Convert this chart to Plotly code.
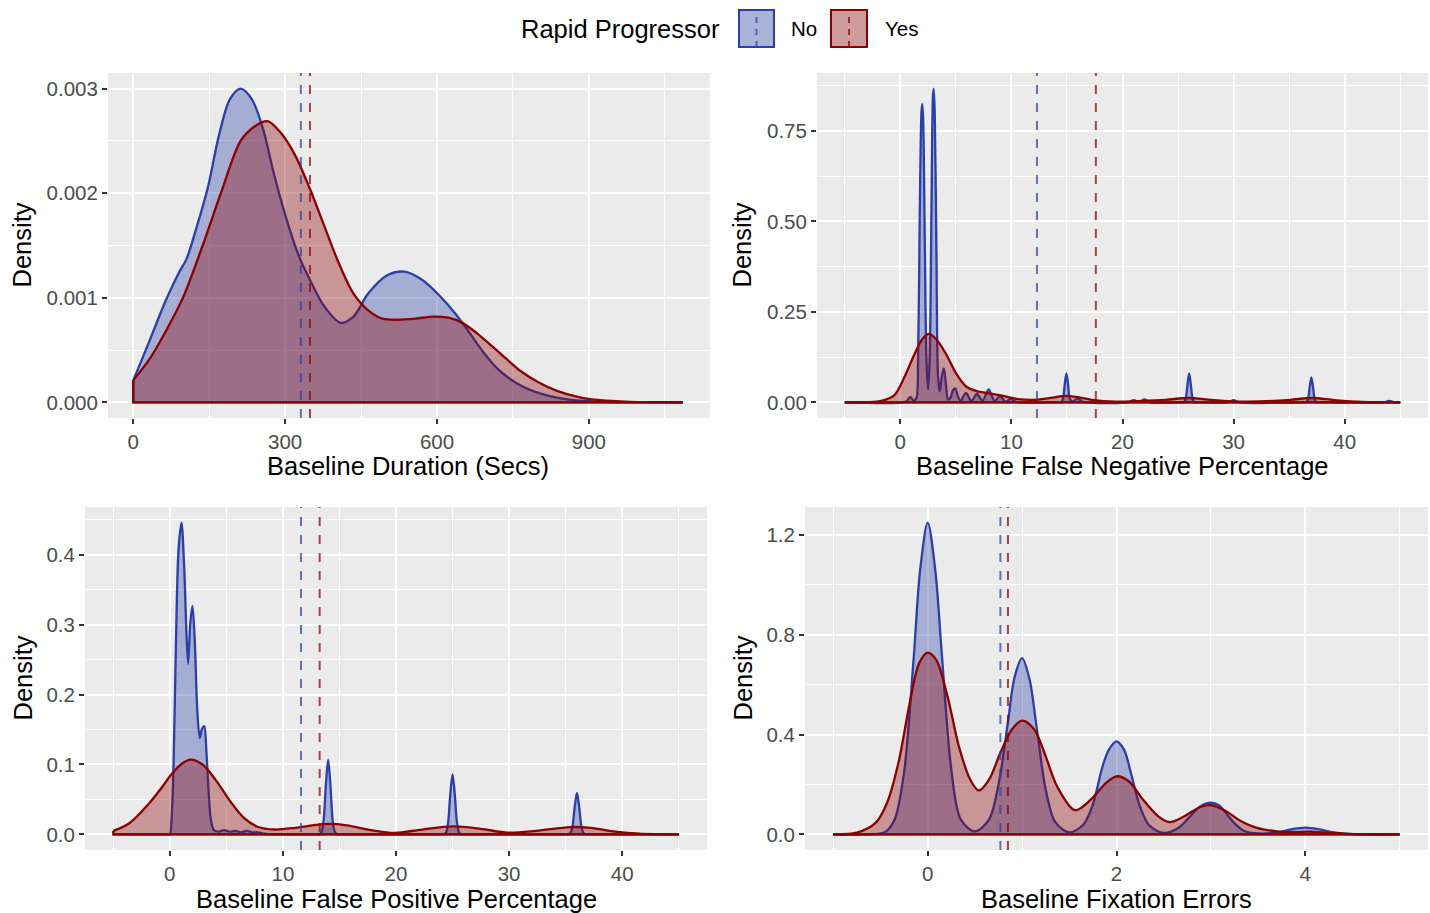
import plotly.graph_objects as go

W, H = 1430, 913

# ---------------- data ----------------
# Panel 1: Baseline Duration (Secs)
dur_no_x = [0, 33, 62, 90, 105, 126, 148, 169, 191, 212, 234, 256, 277, 299, 327, 349, 377, 410,
            435, 464, 500, 535, 571, 607, 636, 665, 693, 722, 758, 794, 837, 887, 944, 1000, 1085]
dur_no_y = [2.1e-4, 6.0e-4, 9.5e-4, 1.24e-3, 1.37e-3, 1.69e-3, 2.07e-3, 2.55e-3, 2.90e-3, 3.00e-3,
            2.90e-3, 2.62e-3, 2.20e-3, 1.81e-3, 1.40e-3, 1.17e-3, 9.2e-4, 7.6e-4, 8.2e-4, 1.04e-3,
            1.21e-3, 1.25e-3, 1.17e-3, 1.01e-3, 8.5e-4, 6.6e-4, 4.7e-4, 3.1e-4, 1.8e-4, 1.0e-4,
            4.5e-5, 1.3e-5, 3e-6, 1e-6, 0.0]
dur_yes_x = [0, 33, 62, 98, 137, 173, 212, 240, 265, 291, 320, 349, 377, 406, 435, 464, 492, 521,
             557, 593, 622, 650, 679, 708, 736, 765, 801, 837, 880, 923, 980, 1030, 1085]
dur_yes_y = [2.1e-4, 4.2e-4, 6.6e-4, 1.0e-3, 1.5e-3, 2.0e-3, 2.5e-3, 2.64e-3, 2.69e-3, 2.58e-3,
             2.36e-3, 2.04e-3, 1.69e-3, 1.33e-3, 1.04e-3, 8.8e-4, 8.0e-4, 7.9e-4, 8.0e-4, 8.2e-4,
             8.1e-4, 7.6e-4, 6.6e-4, 5.4e-4, 4.2e-4, 3.0e-4, 1.9e-4, 1.1e-4, 5.0e-5, 2.0e-5,
             5e-6, 1e-6, 0.0]
dur_mean_no, dur_mean_yes = 331, 349

# Panel 2: Baseline False Negative Percentage
fn_no_x = [-5.0, 0.3, 0.6, 0.9, 1.2, 1.45, 1.6, 1.75, 1.9, 1.97, 2.05, 2.2, 2.35, 2.5, 2.65, 2.8,
           2.93, 3.0, 3.1, 3.25, 3.4, 3.55, 3.75, 3.92, 4.1, 4.3, 4.5, 4.75, 4.95, 5.2, 5.45, 5.7,
           5.9, 6.1, 6.4, 6.7, 6.9, 7.1, 7.4, 7.7, 7.95, 8.2, 8.5, 8.8, 9.0, 9.25, 9.5, 9.8, 9.95,
           10.2, 10.6, 14.3, 14.5, 14.65, 14.8, 14.95, 15.1, 15.25, 15.5, 15.8, 16.0, 16.3, 16.7,
           20.5, 21.0, 21.5, 22.0, 22.5, 25.3, 25.55, 25.7, 25.85, 26.0, 26.15, 26.3, 26.45, 26.7,
           29.5, 30.0, 30.5, 36.3, 36.55, 36.7, 36.85, 37.0, 37.15, 37.3, 37.45, 37.7, 43.5, 44.0,
           44.5, 45.0]
fn_no_y = [0.0, 0.0, 0.004, 0.015, 0.004, 0.012, 0.12, 0.52, 0.80, 0.825, 0.79, 0.45, 0.12, 0.035,
           0.13, 0.52, 0.84, 0.867, 0.80, 0.42, 0.07, 0.03, 0.075, 0.094, 0.05, 0.008, 0.012, 0.034,
           0.038, 0.015, 0.004, 0.018, 0.026, 0.018, 0.003, 0.016, 0.024, 0.016, 0.004, 0.022,
           0.036, 0.02, 0.003, 0.013, 0.017, 0.008, 0.002, 0.008, 0.010, 0.004, 0.0, 0.0, 0.0,
           0.011, 0.049, 0.080, 0.049, 0.011, 0.002, 0.008, 0.010, 0.003, 0.0, 0.0, 0.006, 0.001,
           0.008, 0.0, 0.0, 0.0, 0.011, 0.049, 0.080, 0.049, 0.011, 0.0, 0.0, 0.0, 0.006, 0.0,
           0.0, 0.0, 0.009, 0.042, 0.069, 0.042, 0.009, 0.0, 0.0, 0.0, 0.004, 0.0, 0.0]
fn_yes_x = [-5, -3, -1.8, -0.56, 0.37, 1.3, 1.92, 2.54, 3.16, 4.09, 5.02, 5.95, 6.88, 8.12, 9.36,
            10.6, 12.15, 13.7, 14.9, 16.2, 17.4, 19.3, 21.8, 23.9, 25.9, 27.96, 30.1, 32.9, 35.1,
            37.1, 39.1, 41.6, 45]
fn_yes_y = [0.0, 0.0005, 0.003, 0.019, 0.070, 0.135, 0.172, 0.189, 0.177, 0.135, 0.080, 0.043,
            0.031, 0.024, 0.017, 0.009, 0.007, 0.013, 0.018, 0.013, 0.006, 0.002, 0.004, 0.007,
            0.012, 0.007, 0.002, 0.003, 0.007, 0.012, 0.006, 0.001, 0.0]
fn_mean_no, fn_mean_yes = 12.3, 17.6

# Panel 3: Baseline False Positive Percentage
fp_no_x = [-5.0, -0.2, 0.0, 0.15, 0.33, 0.53, 0.77, 1.03, 1.27, 1.47, 1.62, 1.8, 2.0, 2.2, 2.44,
           2.65, 2.83, 3.04, 3.24, 3.42, 3.63, 3.9, 4.3, 4.8, 5.3, 5.8, 6.3, 6.8, 7.3, 7.8, 8.4,
           9.0, 13.0, 13.2, 13.4, 13.6, 13.8, 14.0, 14.2, 14.4, 14.6, 14.8, 15.0, 24.0, 24.2,
           24.4, 24.6, 24.8, 25.0, 25.2, 25.4, 25.6, 25.8, 26.0, 35.0, 35.2, 35.4, 35.6, 35.8,
           36.0, 36.2, 36.4, 36.6, 36.8, 37.0, 45.0]
fp_no_y = [0.0, 0.0, 0.0, 0.02, 0.098, 0.264, 0.407, 0.446, 0.383, 0.288, 0.244, 0.30, 0.327,
           0.279, 0.174, 0.138, 0.150, 0.155, 0.117, 0.064, 0.021, 0.006, 0.004, 0.006, 0.004,
           0.005, 0.003, 0.005, 0.003, 0.003, 0.001, 0.0, 0.0, 0.0, 0.003, 0.020, 0.071, 0.107,
           0.071, 0.020, 0.003, 0.0, 0.0, 0.0, 0.0, 0.002, 0.016, 0.057, 0.086, 0.057, 0.016,
           0.002, 0.0, 0.0, 0.0, 0.0, 0.0015, 0.011, 0.039, 0.0595, 0.039, 0.011, 0.0015, 0.0,
           0.0, 0.0]
fp_yes_x = [-5, -3.58, -1.8, -0.76, 0.15, 1.06, 1.82, 2.89, 4.10, 5.32, 6.53, 7.75, 9.27, 11.1,
            12.6, 14.1, 15.65, 17.8, 19.9, 22.3, 25.1, 27.5, 29.9, 32.4, 35.4, 37.2, 39.4, 41.5, 45]
fp_yes_y = [0.005, 0.016, 0.045, 0.066, 0.086, 0.101, 0.107, 0.100, 0.077, 0.048, 0.024, 0.011,
            0.007, 0.0095, 0.013, 0.015, 0.013, 0.006, 0.002, 0.007, 0.0114, 0.008, 0.0024,
            0.005, 0.0105, 0.0095, 0.004, 0.001, 0.0]
fp_mean_no, fp_mean_yes = 11.6, 13.25

# Panel 4: Baseline Fixation Errors
fix_no_x = [-1.0, -0.6, -0.45, -0.35, -0.25, -0.15, -0.08, 0.0, 0.08, 0.15, 0.25, 0.35, 0.5, 0.65,
            0.75, 0.85, 0.92, 1.0, 1.08, 1.15, 1.25, 1.35, 1.5, 1.65, 1.75, 1.85, 1.92, 2.0, 2.08,
            2.15, 2.25, 2.35, 2.5, 2.65, 2.75, 2.85, 2.92, 3.0, 3.08, 3.15, 3.25, 3.35, 3.5, 3.7,
            3.85, 4.0, 4.15, 4.3, 4.5, 5.0]
fix_no_y = [0.0, 0.0, 0.01, 0.06, 0.25, 0.70, 1.06, 1.25, 1.06, 0.72, 0.26, 0.06, 0.012, 0.06,
            0.20, 0.45, 0.63, 0.707, 0.62, 0.44, 0.18, 0.05, 0.008, 0.04, 0.12, 0.27, 0.34, 0.373,
            0.34, 0.25, 0.11, 0.035, 0.006, 0.025, 0.06, 0.10, 0.12, 0.127, 0.118, 0.09, 0.045,
            0.015, 0.004, 0.008, 0.02, 0.027, 0.02, 0.008, 0.001, 0.0]
fix_yes_x = [-1.0, -0.75, -0.55, -0.43, -0.31, -0.19, -0.09, 0.0, 0.09, 0.21, 0.33, 0.45, 0.54,
             0.65, 0.77, 0.89, 1.0, 1.13, 1.25, 1.37, 1.56, 1.73, 1.89, 2.0, 2.13, 2.28, 2.44,
             2.56, 2.72, 2.88, 3.0, 3.16, 3.32, 3.48, 3.68, 3.89, 4.04, 4.24, 4.52, 5.0]
fix_yes_y = [0.0, 0.007, 0.047, 0.127, 0.287, 0.527, 0.687, 0.729, 0.70, 0.553, 0.353, 0.22,
             0.176, 0.22, 0.327, 0.42, 0.456, 0.42, 0.313, 0.193, 0.097, 0.14, 0.207, 0.233,
             0.213, 0.14, 0.073, 0.049, 0.073, 0.109, 0.117, 0.093, 0.053, 0.027, 0.013, 0.009,
             0.011, 0.007, 0.001, 0.0]
fix_mean_no, fix_mean_yes = 0.77, 0.85

x_titles = ["Baseline Duration (Secs)", "Baseline False Negative Percentage",
            "Baseline False Positive Percentage", "Baseline Fixation Errors"]
y_title = "Density"
legend_title = "Rapid Progressor"
group_labels = ["No", "Yes"]

# ---------------- styling ----------------
FONT = "Liberation Sans, Arial, Helvetica, sans-serif"
BLUE = "#2B3FA9"
RED = "#8B0000"
BLUE_FILL = "rgba(43,63,169,0.36)"
RED_FILL = "rgba(139,0,0,0.36)"
BLUE_DASH = "rgba(43,63,169,0.72)"
RED_DASH = "rgba(139,0,0,0.72)"
TICK_SIZE = 20.5
TITLE_SIZE = 25.5
LW = 2.3


def px_x(p):
    return p / W


def px_y(p):
    return 1 - p / H


panels = [
    dict(xs=(dur_no_x, dur_yes_x), ys=(dur_no_y, dur_yes_y), means=(dur_mean_no, dur_mean_yes),
         dom_x=(108, 710), dom_y=(73, 418), xr=(-50.0, 1139.25), yr=(-0.00015, 0.00315),
         xd=300, xm=150, yd=0.001, ym=0.0005, yf=".3f", title_x=408, title_y=466, dens_x=22),
    dict(xs=(fn_no_x, fn_yes_x), ys=(fn_no_y, fn_yes_y), means=(fn_mean_no, fn_mean_yes),
         dom_x=(817, 1428), dom_y=(73, 418), xr=(-7.5, 47.5), yr=(-0.04335, 0.91035),
         xd=10, xm=5, yd=0.25, ym=0.125, yf=".2f", title_x=1122, title_y=466, dens_x=742),
    dict(xs=(fp_no_x, fp_yes_x), ys=(fp_no_y, fp_yes_y), means=(fp_mean_no, fp_mean_yes),
         dom_x=(85, 707), dom_y=(507, 850), xr=(-7.5, 47.5), yr=(-0.0223, 0.4683),
         xd=10, xm=5, yd=0.1, ym=0.05, yf=".1f", title_x=396, title_y=899, dens_x=22),
    dict(xs=(fix_no_x, fix_yes_x), ys=(fix_no_y, fix_yes_y), means=(fix_mean_no, fix_mean_yes),
         dom_x=(805, 1428), dom_y=(507, 850), xr=(-1.3, 5.3), yr=(-0.0625, 1.3125),
         xd=2, xm=1, yd=0.4, ym=0.2, yf=".1f", title_x=1116, title_y=899, dens_x=742),
]

fig = go.Figure()
layout = {}
annotations = []
shapes = []

for i, p in enumerate(panels, start=1):
    sfx = "" if i == 1 else str(i)
    xa, ya = "x" + sfx, "y" + sfx
    for xs, ys, lc, fc in ((p["xs"][0], p["ys"][0], BLUE, BLUE_FILL),
                           (p["xs"][1], p["ys"][1], RED, RED_FILL)):
        fig.add_trace(go.Scatter(
            x=xs, y=ys, mode="lines", fill="tozeroy", fillcolor=fc,
            line=dict(color=lc, width=LW, shape="spline", smoothing=0.9),
            xaxis=xa, yaxis=ya, showlegend=False, hoverinfo="skip"))
        # outline along the baseline (full outline as in the reference)
        fig.add_trace(go.Scatter(
            x=[xs[0], xs[0], xs[-1]], y=[ys[0], 0, 0], mode="lines",
            line=dict(color=lc, width=LW), xaxis=xa, yaxis=ya,
            showlegend=False, hoverinfo="skip"))
    for m, c in ((p["means"][0], BLUE_DASH), (p["means"][1], RED_DASH)):
        shapes.append(dict(type="line", xref=xa, yref=ya + " domain", x0=m, x1=m, y0=0, y1=1,
                           line=dict(color=c, width=2, dash="9px,9px"), layer="above"))

    common = dict(showgrid=True, gridcolor="white", gridwidth=2.2, zeroline=False,
                  showline=False, ticks="outside", ticklen=5, tickwidth=1.6,
                  tickcolor="#333333", automargin=False, fixedrange=True,
                  tickfont=dict(family=FONT, size=TICK_SIZE, color="#4D4D4D"))
    layout["xaxis" + sfx] = dict(
        domain=[px_x(p["dom_x"][0]), px_x(p["dom_x"][1])], range=list(p["xr"]),
        anchor=ya, tickmode="linear", tick0=0, dtick=p["xd"],
        minor=dict(tick0=0, dtick=p["xm"], showgrid=True, gridcolor="white", gridwidth=1.1),
        **common)
    layout["yaxis" + sfx] = dict(
        domain=[px_y(p["dom_y"][1]), px_y(p["dom_y"][0])], range=list(p["yr"]),
        anchor=xa, tickmode="linear", tick0=0, dtick=p["yd"], tickformat=p["yf"],
        minor=dict(tick0=0, dtick=p["ym"], showgrid=True, gridcolor="white", gridwidth=1.1),
        **common)

    annotations.append(dict(text=x_titles[i - 1], xref="paper", yref="paper",
                            x=px_x(p["title_x"]), y=px_y(p["title_y"]), xanchor="center",
                            yanchor="middle", showarrow=False,
                            font=dict(family=FONT, size=TITLE_SIZE, color="black")))
    annotations.append(dict(text=y_title, xref="paper", yref="paper", textangle=-90,
                            x=px_x(p["dens_x"]), y=px_y((p["dom_y"][0] + p["dom_y"][1]) / 2),
                            xanchor="center", yanchor="middle", showarrow=False,
                            font=dict(family=FONT, size=TITLE_SIZE, color="black")))

# ---------------- legend (top centre) ----------------
annotations.append(dict(text=legend_title, xref="paper", yref="paper", x=px_x(722), y=px_y(29),
                        xanchor="right", yanchor="middle", showarrow=False,
                        font=dict(family=FONT, size=TITLE_SIZE, color="black")))
keys = [(738, 775, BLUE, BLUE_FILL, BLUE_DASH, 789, group_labels[0]),
        (830, 868, RED, RED_FILL, RED_DASH, 883, group_labels[1])]
for x0, x1, lc, fc, dc, tx, lab in keys:
    shapes.append(dict(type="rect", xref="paper", yref="paper", x0=px_x(x0), x1=px_x(x1),
                       y0=px_y(48), y1=px_y(9), fillcolor="#F2F2F2", line=dict(width=0)))
    shapes.append(dict(type="rect", xref="paper", yref="paper", x0=px_x(x0 + 1), x1=px_x(x1 - 1),
                       y0=px_y(47), y1=px_y(10), fillcolor=fc, line=dict(color=lc, width=2)))
    shapes.append(dict(type="line", xref="paper", yref="paper", x0=px_x((x0 + x1) / 2),
                       x1=px_x((x0 + x1) / 2), y0=px_y(47), y1=px_y(10),
                       line=dict(color=dc, width=2, dash="6px,6px")))
    annotations.append(dict(text=lab, xref="paper", yref="paper", x=px_x(tx), y=px_y(29),
                            xanchor="left", yanchor="middle", showarrow=False,
                            font=dict(family=FONT, size=TICK_SIZE, color="black")))

fig.update_layout(
    width=W, height=H, margin=dict(l=0, r=0, t=0, b=0),
    paper_bgcolor="white", plot_bgcolor="#EBEBEB",
    font=dict(family=FONT), showlegend=False,
    annotations=annotations, shapes=shapes, **layout)

fig.write_html("out.html")
